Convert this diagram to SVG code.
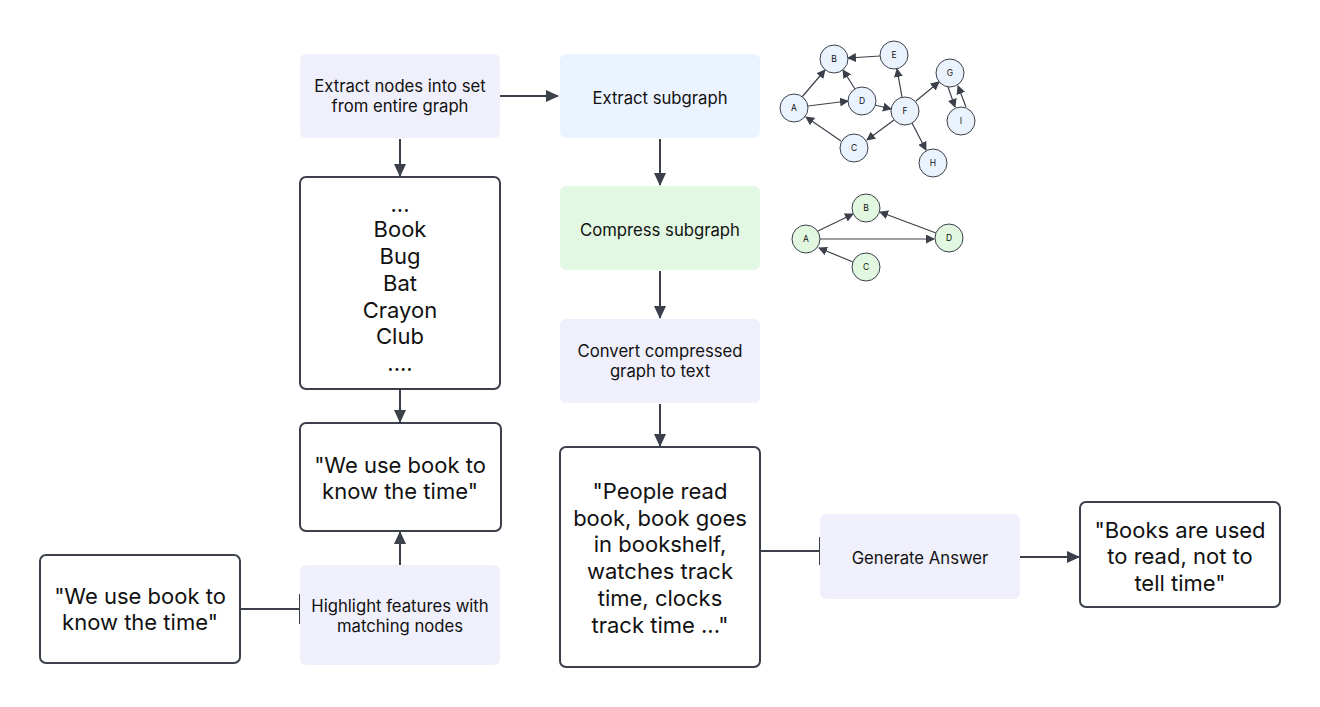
<svg xmlns="http://www.w3.org/2000/svg" width="1320" height="707" viewBox="0 0 1320 707">
<defs>
<style>
.t{font-family:Inter,"Liberation Sans",sans-serif;fill:#111;text-anchor:middle}
.s{font-size:16.7px}
.l{font-size:22px}
.g{font-size:8.5px}
.pur{fill:#F0F0FC}
.blu{fill:#EBF3FE}
.grn{fill:#E2F8E2}
.out{fill:#fff;stroke:#3B404A;stroke-width:2}
.c{stroke:#3B404A;stroke-width:2;fill:none}
.e{stroke:#3B404A;stroke-width:1.2;fill:none}
.nb{fill:#EAF2FD;stroke:#3B404A;stroke-width:1}
.ng{fill:#E1F7DF;stroke:#3B404A;stroke-width:1}
</style>
<marker id="ah" markerWidth="13" markerHeight="12" refX="12" refY="6" orient="auto" markerUnits="userSpaceOnUse"><path d="M0,0 L13,6 L0,12 Z" fill="#3B404A"/></marker>
<marker id="sh" markerWidth="9" markerHeight="9" refX="8" refY="4.5" orient="auto" markerUnits="userSpaceOnUse"><path d="M0,0 L9,4.5 L0,9 Z" fill="#3B404A"/></marker>
</defs>
<rect width="1320" height="707" fill="#fff"/>

<g id="connectors">
<path class="c" d="M500,96 H558" marker-end="url(#ah)"/>
<path class="c" d="M400,139 V176" marker-end="url(#ah)"/>
<path class="c" d="M660,139 V185" marker-end="url(#ah)"/>
<path class="c" d="M660,271 V318" marker-end="url(#ah)"/>
<path class="c" d="M660,404 V446" marker-end="url(#ah)"/>
<path class="c" d="M400,390 V422" marker-end="url(#ah)"/>
<path class="c" d="M400,565 V532" marker-end="url(#ah)"/>
<path class="c" d="M241,609 H300 M300,594 V624"/>
<path class="c" d="M761,551 H820 M820,537 V565"/>
<path class="c" d="M1020,557 H1079" marker-end="url(#ah)"/>
</g>

<g id="n-extract-nodes"><rect class="pur" x="300" y="54" width="200" height="84" rx="6"/><text class="t s" x="400" y="92">Extract nodes into set</text><text class="t s" x="400" y="112">from entire graph</text></g>
<g id="n-extract-subgraph"><rect class="blu" x="560" y="54" width="200" height="84" rx="6"/><text class="t s" x="660" y="103.5">Extract subgraph</text></g>
<g id="n-compress"><rect class="grn" x="560" y="186" width="200" height="84" rx="6"/><text class="t s" x="660" y="236">Compress subgraph</text></g>
<g id="n-convert"><rect class="pur" x="560" y="319" width="200" height="84" rx="6"/><text class="t s" x="660" y="357">Convert compressed</text><text class="t s" x="660" y="377">graph to text</text></g>
<g id="n-list"><rect class="out" x="300" y="177" width="200" height="212" rx="6"/>
<text class="t l" x="400" y="212">...</text>
<text class="t l" x="400" y="237">Book</text>
<text class="t l" x="400" y="264">Bug</text>
<text class="t l" x="400" y="291">Bat</text>
<text class="t l" x="400" y="318">Crayon</text>
<text class="t l" x="400" y="344">Club</text>
<text class="t l" x="400" y="371">....</text></g>
<g id="n-quote"><rect class="out" x="300" y="423" width="201" height="108" rx="6"/><text class="t l" x="400" y="473">"We use book to</text><text class="t l" x="400" y="499">know the time"</text></g>
<g id="n-highlight"><rect class="pur" x="300" y="565" width="200" height="100" rx="6"/><text class="t s" x="400" y="612">Highlight features with</text><text class="t s" x="400" y="632">matching nodes</text></g>
<g id="n-input"><rect class="out" x="40" y="555" width="200" height="108" rx="6"/><text class="t l" x="140" y="604">"We use book to</text><text class="t l" x="140" y="630">know the time"</text></g>
<g id="n-text"><rect class="out" x="560" y="447" width="200" height="220" rx="6"/>
<text class="t l" x="660" y="499">"People read</text>
<text class="t l" x="660" y="526">book, book goes</text>
<text class="t l" x="660" y="552">in bookshelf,</text>
<text class="t l" x="660" y="579">watches track</text>
<text class="t l" x="660" y="606">time, clocks</text>
<text class="t l" x="660" y="633">track time ..."</text></g>
<g id="n-generate"><rect class="pur" x="820" y="514" width="200" height="85" rx="6"/><text class="t s" x="920" y="564">Generate Answer</text></g>
<g id="n-answer"><rect class="out" x="1080" y="502" width="200" height="105" rx="6"/><text class="t l" x="1180" y="538">"Books are used</text><text class="t l" x="1180" y="564">to read, not to</text><text class="t l" x="1180" y="591">tell time"</text></g>

<g id="graph-full">
<g id="graph-full-edges">
<line class="e" x1="802" y1="97" x2="825" y2="70" marker-end="url(#sh)"/>
<line class="e" x1="808" y1="106" x2="848" y2="101" marker-end="url(#sh)"/>
<line class="e" x1="855" y1="89" x2="843" y2="70" marker-end="url(#sh)"/>
<line class="e" x1="880" y1="56" x2="848" y2="58" marker-end="url(#sh)"/>
<line class="e" x1="875" y1="105" x2="891" y2="109" marker-end="url(#sh)"/>
<line class="e" x1="902" y1="97" x2="897" y2="69" marker-end="url(#sh)"/>
<line class="e" x1="916" y1="101" x2="939" y2="82" marker-end="url(#sh)"/>
<line class="e" x1="948" y1="87" x2="955" y2="107" marker-end="url(#sh)"/>
<line class="e" x1="966" y1="107" x2="958" y2="86" marker-end="url(#sh)"/>
<line class="e" x1="894" y1="120" x2="867" y2="140" marker-end="url(#sh)"/>
<line class="e" x1="912" y1="123" x2="926" y2="150" marker-end="url(#sh)"/>
<line class="e" x1="841" y1="141" x2="806" y2="117" marker-end="url(#sh)"/>
</g>
<g id="gA"><circle class="nb" cx="794" cy="108" r="14"/><text class="t g" x="794" y="111">A</text></g>
<g id="gB"><circle class="nb" cx="834" cy="59" r="14"/><text class="t g" x="834" y="62">B</text></g>
<g id="gE"><circle class="nb" cx="894" cy="55" r="14"/><text class="t g" x="894" y="58">E</text></g>
<g id="gD"><circle class="nb" cx="862" cy="101" r="14"/><text class="t g" x="862" y="104">D</text></g>
<g id="gF"><circle class="nb" cx="905" cy="111" r="14"/><text class="t g" x="905" y="114">F</text></g>
<g id="gG"><circle class="nb" cx="950" cy="73" r="14"/><text class="t g" x="950" y="76">G</text></g>
<g id="gI"><circle class="nb" cx="961" cy="121" r="14"/><text class="t g" x="961" y="124">I</text></g>
<g id="gC"><circle class="nb" cx="854" cy="148" r="14"/><text class="t g" x="854" y="151">C</text></g>
<g id="gH"><circle class="nb" cx="933" cy="163" r="14"/><text class="t g" x="933" y="166">H</text></g>
</g>

<g id="graph-compressed">
<g id="graph-compressed-edges">
<line class="e" x1="818" y1="231" x2="853" y2="214" marker-end="url(#sh)"/>
<line class="e" x1="820" y1="239" x2="934" y2="239" marker-end="url(#sh)"/>
<line class="e" x1="936" y1="233" x2="880" y2="212" marker-end="url(#sh)"/>
<line class="e" x1="853" y1="262" x2="819" y2="248" marker-end="url(#sh)"/>
</g>
<g id="cA"><circle class="ng" cx="806" cy="239" r="14"/><text class="t g" x="806" y="242">A</text></g>
<g id="cB"><circle class="ng" cx="866" cy="208" r="14"/><text class="t g" x="866" y="211">B</text></g>
<g id="cD"><circle class="ng" cx="949" cy="238" r="14"/><text class="t g" x="949" y="241">D</text></g>
<g id="cC"><circle class="ng" cx="866" cy="267" r="14"/><text class="t g" x="866" y="270">C</text></g>
</g>
</svg>
